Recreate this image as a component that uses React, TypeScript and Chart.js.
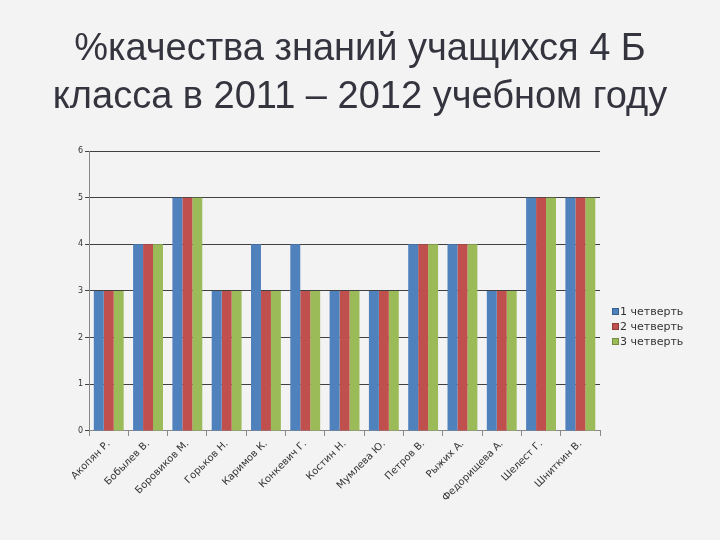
import React, { useEffect, useRef } from "react";
import { Chart, registerables } from "chart.js";

Chart.register(...registerables);

const students = [
  "Акопян Р.",
  "Бобылев В.",
  "Боровиков М.",
  "Горьков Н.",
  "Каримов К.",
  "Конкевич Г.",
  "Костин Н.",
  "Мумлева Ю.",
  "Петров В.",
  "Рыжих А.",
  "Федорищева А.",
  "Шелест Г.",
  "Шниткин В.",
];
const quarter1 = [3, 4, 5, 3, 4, 4, 3, 3, 4, 4, 3, 5, 5];
const quarter2 = [3, 4, 5, 3, 3, 3, 3, 3, 4, 4, 3, 5, 5];
const quarter3 = [3, 4, 5, 3, 3, 3, 3, 3, 4, 4, 3, 5, 5];
const seriesLabels = ["1 четверть", "2 четверть", "3 четверть"];
const seriesColors = ["#4F81BD", "#C0504D", "#9BBB59"];
const titleLines = [
  "%качества знаний учащихся 4 Б",
  "класса в 2011 – 2012 учебном году",
];
const yMin = 0;
const yMax = 6;

const bgPlugin = {
  id: "bgFill",
  beforeDraw(chart: any) {
    const { ctx, width, height } = chart;
    ctx.save();
    ctx.fillStyle = "#F3F3F3";
    ctx.fillRect(0, 0, width, height);
    ctx.restore();
  },
};

const sideLegend = {
  id: "sideLegend",
  afterDraw(chart: any) {
    const { ctx, chartArea } = chart;
    const x = chartArea.right + 12;
    const y0 = 312;
    const step = 15;
    ctx.save();
    ctx.font = '11px "DejaVu Sans"';
    ctx.textBaseline = "middle";
    ctx.textAlign = "left";
    chart.data.datasets.forEach((ds: any, i: number) => {
      const y = y0 + i * step;
      ctx.fillStyle = ds.backgroundColor;
      ctx.fillRect(x, y - 4, 7, 7);
      ctx.strokeStyle = "rgba(0,0,0,0.25)";
      ctx.lineWidth = 1;
      ctx.strokeRect(x + 0.5, y - 3.5, 6, 6);
      ctx.fillStyle = "#333333";
      ctx.fillText(ds.label, x + 8, y);
    });
    ctx.restore();
  },
};

export default function App() {
  const ref = useRef<HTMLCanvasElement | null>(null);

  useEffect(() => {
    if (!ref.current) return;
    const data = [quarter1, quarter2, quarter3];
    const chart = new Chart(ref.current, {
      type: "bar",
      data: {
        labels: students,
        datasets: seriesLabels.map((label, i) => ({
          label,
          data: data[i],
          backgroundColor: seriesColors[i],
          borderWidth: 0,
        })),
      },
      options: {
        responsive: false,
        animation: false,
        layout: { padding: { left: 76, right: 120, bottom: 34, top: 151 } },
        datasets: {
          bar: { barPercentage: 1, categoryPercentage: 0.76 },
        },
        plugins: {
          legend: { display: false },
          tooltip: { enabled: false },
          title: { display: false },
        },
        scales: {
          x: {
            grid: {
              display: true,
              drawOnChartArea: false,
              drawTicks: true,
              tickLength: 5,
              color: "#888888",
              offset: true,
            },
            border: { color: "#888888" },
            ticks: {
              minRotation: 45,
              maxRotation: 45,
              color: "#333333",
              font: { family: "DejaVu Sans", size: 10 },
              padding: 2,
            },
          },
          y: {
            min: yMin,
            max: yMax,
            grid: {
              color: "#404040",
              tickLength: 4,
            },
            border: { color: "#888888" },
            ticks: {
              stepSize: 1,
              color: "#333333",
              font: { family: "DejaVu Sans", size: 8 },
              padding: 2,
            },
          },
        },
      },
      plugins: [bgPlugin, sideLegend],
    });
    return () => chart.destroy();
  }, []);

  return (
    <div
      style={{
        position: "absolute",
        left: 0,
        top: 0,
        width: 720,
        height: 540,
        background: "#F3F3F3",
      }}
    >
      <canvas
        ref={ref}
        width={720}
        height={540}
        style={{ position: "absolute", left: 0, top: 0 }}
      />
      <div
        style={{
          position: "absolute",
          left: 0,
          top: 23,
          width: 720,
          textAlign: "center",
          fontFamily: '"Liberation Sans", Arial, sans-serif',
          fontSize: 38,
          lineHeight: "48px",
          color: "#34343F",
          whiteSpace: "nowrap",
        }}
      >
        {titleLines.map((line, i) => (
          <div key={i}>{line}</div>
        ))}
      </div>
    </div>
  );
}
